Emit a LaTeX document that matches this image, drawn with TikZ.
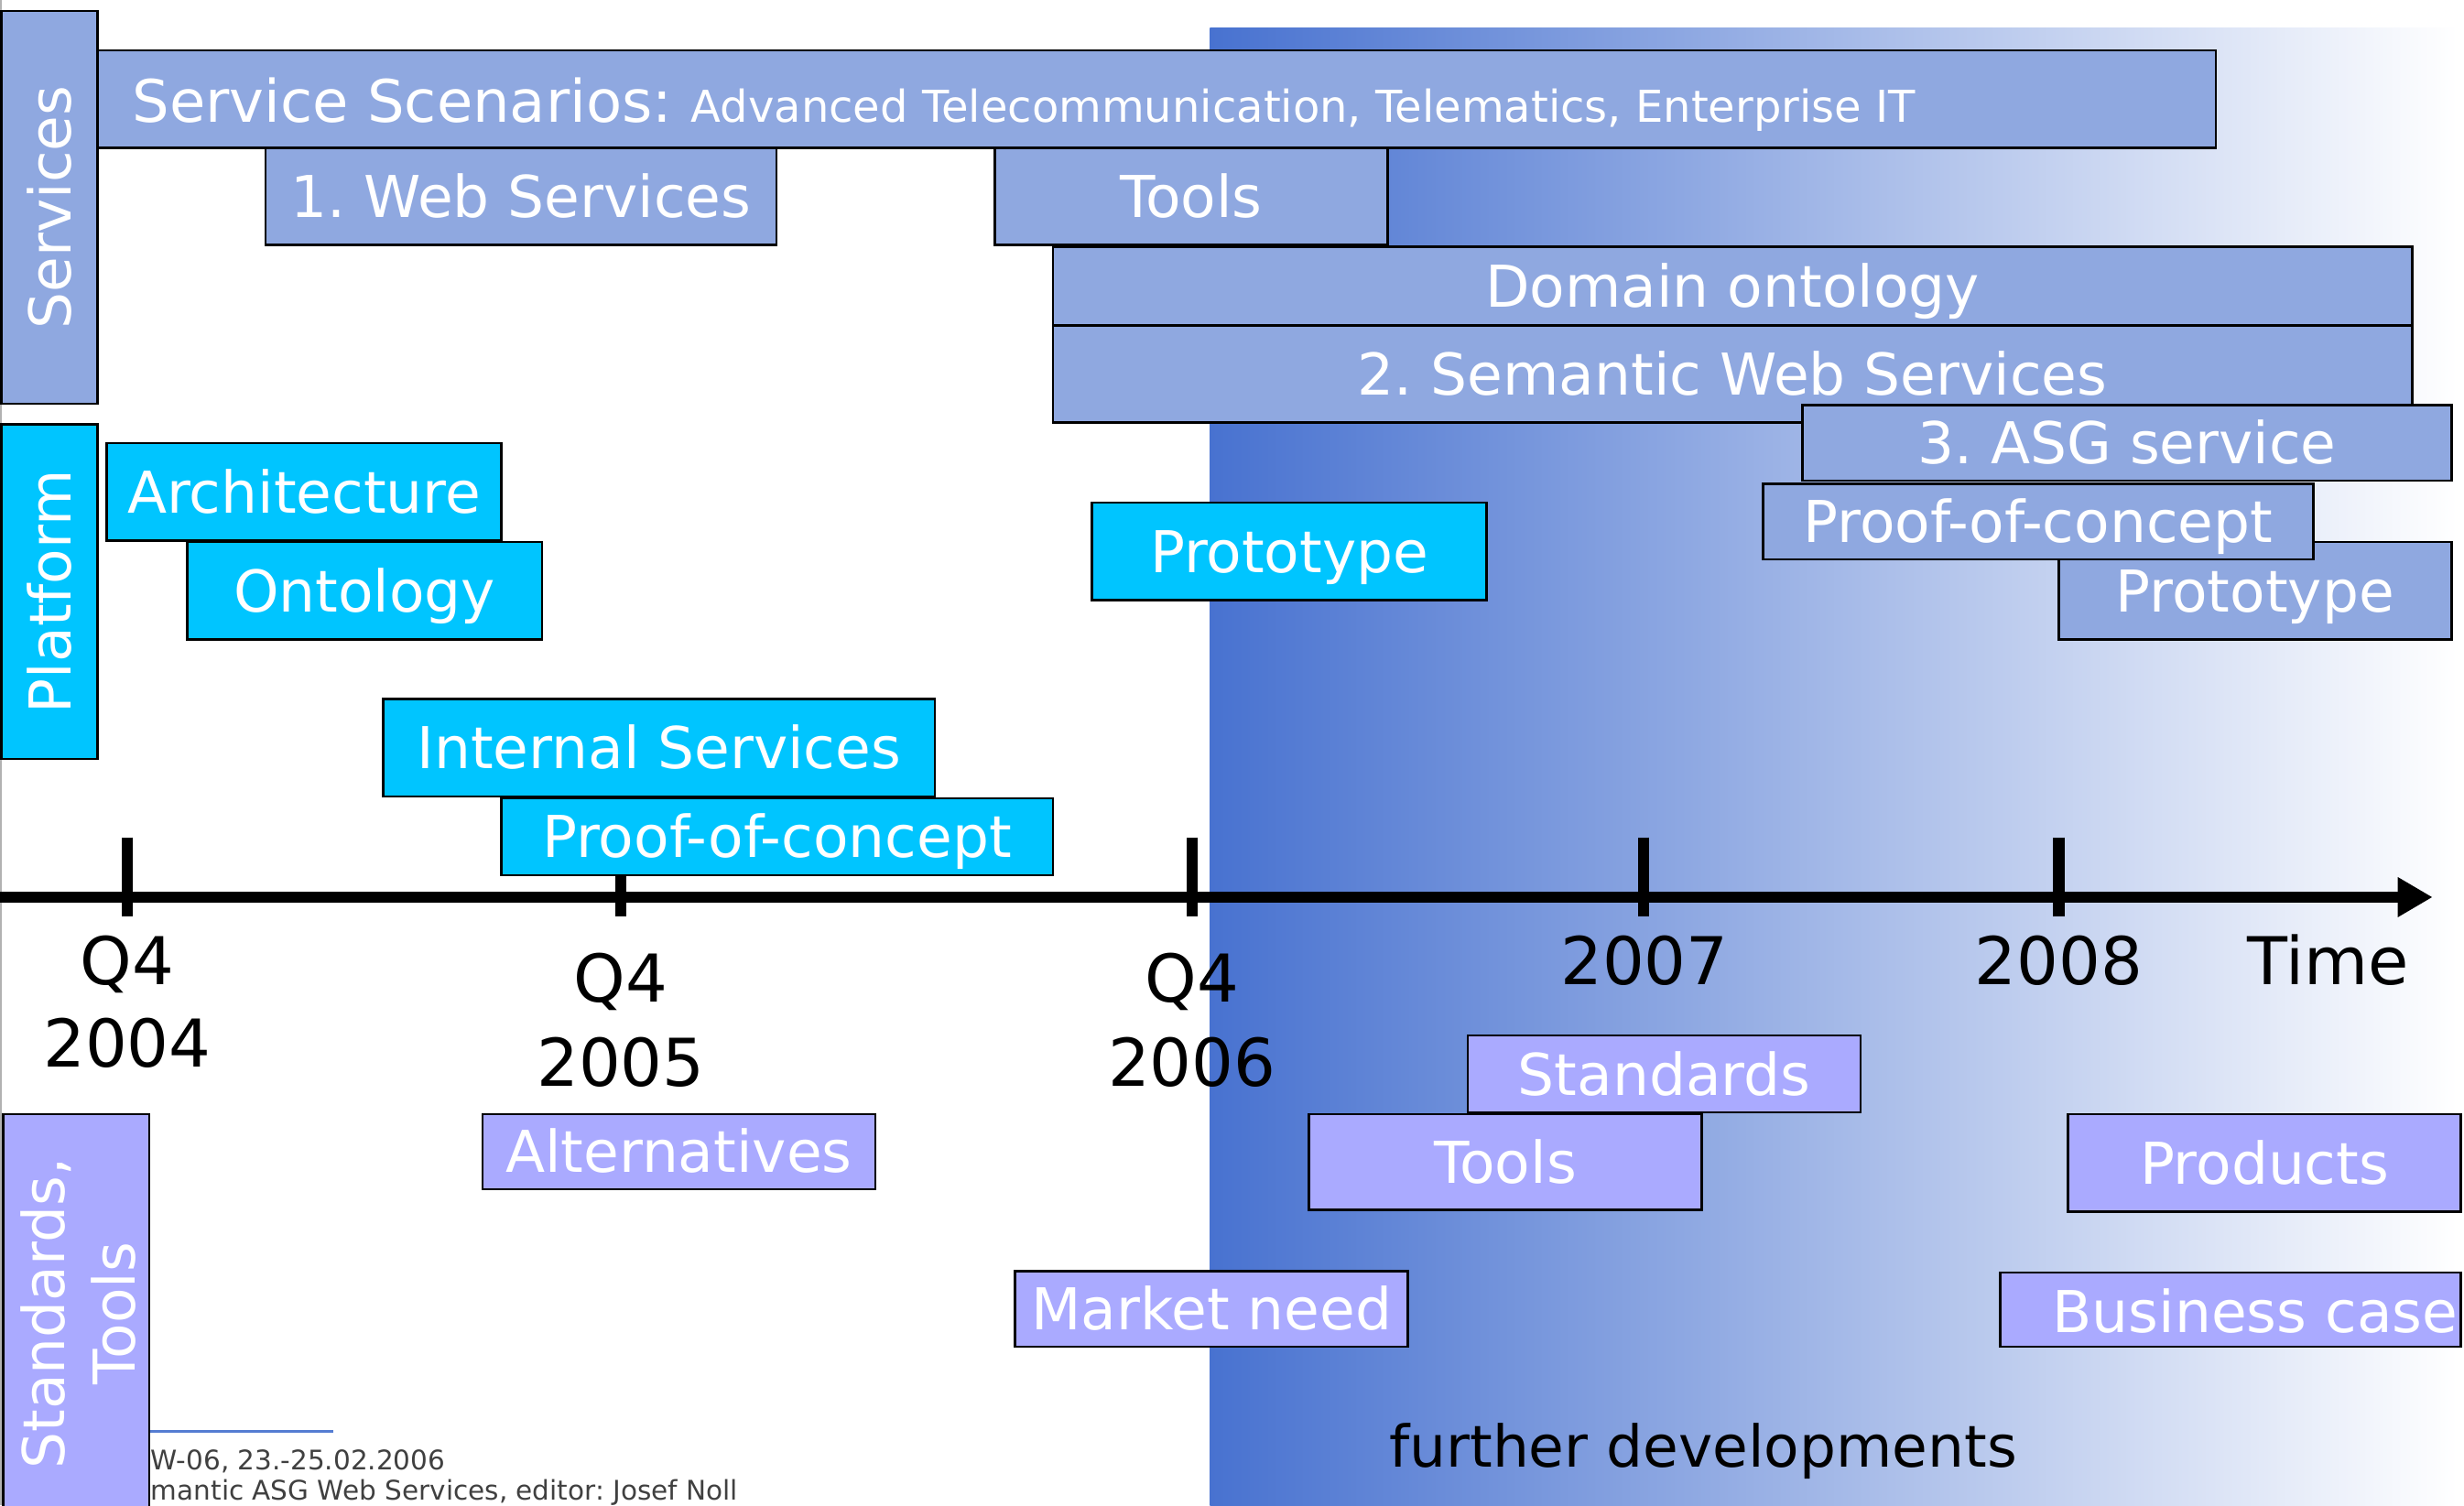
\documentclass[tikz,border=0pt]{standalone}
\usepackage{fontspec}
\setmainfont{DejaVu Sans}
\usetikzlibrary{arrows.meta}
\frenchspacing

\definecolor{svcfill}{RGB}{143,168,224}
\definecolor{pltfill}{RGB}{0,197,255}
\definecolor{stdfill}{RGB}{170,170,255}
\definecolor{trendblue}{RGB}{72,114,208}
\definecolor{footgray}{RGB}{64,64,64}
\definecolor{footline}{RGB}{85,125,210}

% one drawing unit in pt
\newcommand{\pxu}{1.7162pt}
% \tlbox{name}{style}{x1}{y1}{x2}{y2}{text}: a bar spanning the given corners
\newcommand{\tlbox}[7]{%
  \node[#2, minimum width={(#5-#3)*\pxu}, minimum height={(#6-#4)*\pxu}]
    (#1) at ({(#3+#5)/2},{(#4+#6)/2}) {#7};}

\begin{document}
\begin{tikzpicture}[x=1.7162pt, y=-1.7162pt,
  box/.style={draw=black, line width=2.6pt, inner sep=0pt, outer sep=0pt,
    text=white, font=\fontsize{63}{76}\selectfont, text height=46pt, text depth=0pt},
  svc/.style={box, fill=svcfill},
  plt/.style={box, fill=pltfill},
  std/.style={box, fill=stdfill},
  bartext/.style={inner sep=0pt, text=white, font=\fontsize{63}{76}\selectfont,
    text height=46pt, text depth=0pt},
  axislabel/.style={inner sep=0pt, anchor=base, text=black,
    font=\fontsize{72}{86}\selectfont},
  tickmark/.style={line width=12.5pt},
  foot/.style={inner sep=0pt, anchor=base west, text=footgray,
    font=\fontsize{29.5}{36}\selectfont}]

\useasboundingbox (0,0) rectangle (1568,958);
\clip (0,0) rectangle (1568,958);
\fill[white] (0,0) rectangle (1568,958);

% shaded band for the later period
\shade[left color=trendblue, right color=white] (770,18) rectangle (1564,958);

% page edge
\coordinate (edgeT) at (0.5,0);
\coordinate (edgeB) at (0.5,958);
\draw[gray!60, line width=1.5pt] (edgeT) -- (edgeB);

% time axis with ticks
\coordinate (ax0) at (0,571);
\coordinate (ax1) at (1548,571);
\foreach \t/\x in {a/81,b/395,c/758.5,d/1046,e/1310}{
  \coordinate (tick\t top) at (\x,533);
  \coordinate (tick\t bot) at (\x,583);
  \draw[tickmark] (tick\t top) -- (tick\t bot);
}
\draw[line width=12.5pt, -{Triangle[length=38pt,width=41pt]}] (ax0) -- (ax1);

% axis labels
\node[axislabel] (qa) at (81,626.5) {Q4};
\node[axislabel] (ya) at (81,679) {2004};
\node[axislabel] (qb) at (395,638) {Q4};
\node[axislabel] (yb) at (395,691.5) {2005};
\node[axislabel] (qc) at (758.5,638) {Q4};
\node[axislabel] (yc) at (758.5,691.5) {2006};
\node[axislabel] (yd) at (1046.5,626.5) {2007};
\node[axislabel] (ye) at (1310,626.5) {2008};
\node[axislabel] (time) at (1481.5,626.5) {Time};

% services
\tlbox{sc}{svc}{62}{32}{1410}{94}{}
\node[inner sep=0pt, anchor=base west, text=white] (sctext) at (84,77.5)
  {\fontsize{64}{76}\selectfont Service Scenarios: \fontsize{48}{56}\selectfont Advanced Telecommunication, Telematics, Enterprise IT};
\tlbox{ws}{svc}{169}{94}{494}{156}{1. Web Services}
\tlbox{toolsa}{svc}{633}{94}{883}{156}{Tools}
\tlbox{dom}{svc}{670}{157}{1535}{207}{Domain ontology}
\tlbox{sws}{svc}{670}{207}{1535}{269}{2. Semantic Web Services}
\tlbox{asg}{svc}{1147}{258}{1560}{306}{3. ASG service}
\tlbox{protob}{svc}{1310}{345}{1560}{407}{Prototype}
\tlbox{pocb}{svc}{1122}{308}{1472}{356}{Proof-of-concept}
\node[svc, rotate=90, minimum width={250*\pxu}, minimum height={61*\pxu}]
  (svclabel) at (31.5,132) {Services};

% platform
\node[plt, rotate=90, minimum width={213*\pxu}, minimum height={61*\pxu}]
  (pltlabel) at (31.5,376.5) {Platform};
\tlbox{arch}{plt}{68}{282}{319}{344}{Architecture}
\tlbox{onto}{plt}{119}{345}{345}{407}{Ontology}
\tlbox{protoa}{plt}{695}{320}{946}{382}{Prototype}
\tlbox{intsv}{plt}{244}{445}{595}{507}{Internal Services}
\tlbox{poca}{plt}{319}{508}{670}{557}{Proof-of-concept}

% standards and tools
\tlbox{alt}{std}{307}{709}{557}{757}{Alternatives}
\tlbox{stdn}{std}{934}{659}{1184}{708}{Standards}
\tlbox{toolsb}{std}{833}{709}{1083}{770}{Tools}
\tlbox{prod}{std}{1316}{709}{1566}{771}{Products}
\tlbox{mkt}{std}{646}{809}{896}{857}{Market need}
\tlbox{bc}{std}{1273}{810}{1566}{857}{}
\node[bartext, anchor=west] (bctext) at (1306,834.5) {Business case};

\node[inner sep=0pt, anchor=base west, text=black, font=\fontsize{63}{76}\selectfont]
  (further) at (884,933.5) {further developments};

% footer
\coordinate (footA) at (95,911);
\coordinate (footB) at (212,911);
\draw[footline, line width=2.5pt] (footA) -- (footB);
\node[foot] (footone) at (96,935.2) {W-06, 23.-25.02.2006};
\node[foot] (foottwo) at (96,954.6) {mantic ASG Web Services, editor: Josef Noll};

\node[std, rotate=90, minimum width={262*\pxu}, minimum height={93*\pxu}]
  (stdlabel) at (48.5,840) {};
\node[inner sep=0pt, rotate=90, align=center, text=white,
  font=\fontsize{63}{77}\selectfont] (stdtext) at (50,836) {Standards,\\Tools};

\end{tikzpicture}
\end{document}
